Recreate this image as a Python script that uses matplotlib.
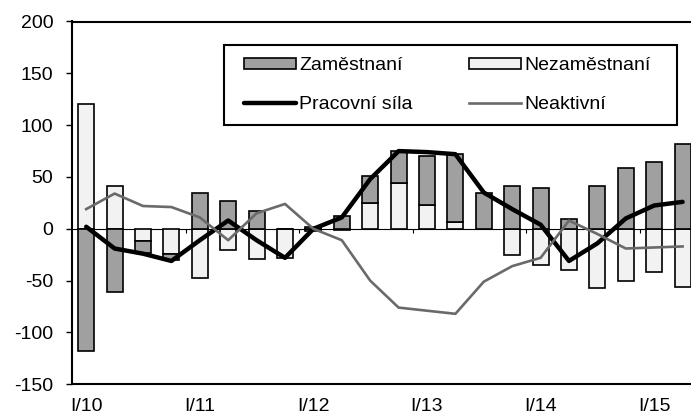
import matplotlib
matplotlib.use("Agg")
import matplotlib.pyplot as plt
from matplotlib.patches import Rectangle
import numpy as np

plt.rcParams['font.family'] = ['Liberation Sans', 'DejaVu Sans']
plt.rcParams['axes.unicode_minus'] = False

categories = ["I/10", "II/10", "III/10", "IV/10", "I/11", "II/11", "III/11", "IV/11",
              "I/12", "II/12", "III/12", "IV/12", "I/13", "II/13", "III/13", "IV/13",
              "I/14", "II/14", "III/14", "IV/14", "I/15", "II/15"]
zamestnani = [-118, -61, -11, -6, 35, 27, 17, 0, 2, 12, 25.5, 31.5, 48, 65, 35, 41,
              39, 9, 41, 59, 64, 82]
nezamestnani = [120, 41, -12, -24, -47, -20, -29, -28, -2, -1, 25, 44, 22.5, 7, 0, -25,
                -35, -40, -57, -50, -42, -56]
pracovni_sila = [2, -19, -24, -31, -11, 8, -11, -28, 0, 11, 48, 75, 74, 72, 35, 19,
                 4, -31, -14, 10, 22.5, 26]
neaktivni = [19, 34, 22, 21, 11, -11, 15, 24, 0, -11, -50, -76, -79, -82, -51, -36,
             -28, 8, -5, -19, -18, -17]

x = np.arange(len(categories))
zam = np.array(zamestnani, dtype=float)
nez = np.array(nezamestnani, dtype=float)
# Nezaměstnaní drawn from zero; Zaměstnaní stacked on it when of the same sign
zam_bottom = np.where(np.sign(zam) == np.sign(nez), nez, 0.0)

fig = plt.figure(figsize=(6.91, 4.17), dpi=100)
ax = fig.add_axes([72/691, 1-384.3/417, 624.8/691, 362.8/417])

dark = '#A0A0A0'
light = '#F2F2F2'
bw = 0.56
b_nez = ax.bar(x, nez, width=bw, color=light, edgecolor='black', linewidth=1.2,
               label='Nezaměstnaní', zorder=2)
b_zam = ax.bar(x, zam, width=bw, bottom=zam_bottom, color=dark, edgecolor='black',
               linewidth=1.2, label='Zaměstnaní', zorder=2)
l_pr, = ax.plot(x, pracovni_sila, color='black', linewidth=3.2, label='Pracovní síla',
                zorder=4, solid_capstyle='round', solid_joinstyle='round')
l_ne, = ax.plot(x, neaktivni, color='#6A6A6A', linewidth=1.9, label='Neaktivní', zorder=5)

ax.set_xlim(-0.5, len(categories) - 0.5)
ax.set_ylim(-150, 200)
ax.set_yticks(np.arange(-150, 201, 50))
ax.tick_params(axis='y', direction='out', length=4.5, width=1, labelsize=14, pad=9)

idx = [i for i, c in enumerate(categories) if c.startswith("I/")]
ax.set_xticks(idx)
ax.set_xticklabels([categories[i] for i in idx])
ax.tick_params(axis='x', length=0, labelsize=14, pad=10)

# zero axis with tick marks between years
sec = ax.secondary_xaxis(150/350)
sec.set_xticks([i - 0.5 for i in idx if i > 0])
sec.set_xticklabels([])
sec.tick_params(axis='x', direction='out', length=3, width=0.8)
sec.spines['bottom'].set_linewidth(0.8)

for s in ['left', 'bottom', 'top']:
    ax.spines[s].set_linewidth(1.5)
ax.spines['right'].set_visible(False)

# legend filled by columns: column 1 = Zaměstnaní, Pracovní síla
leg = fig.legend([b_zam, l_pr, b_nez, l_ne],
                 ['Zaměstnaní', 'Pracovní síla', 'Nezaměstnaní', 'Neaktivní'],
                 ncol=2, loc='upper left', bbox_to_anchor=(244/691, 1-57.5/417),
                 fontsize=14, frameon=False, handlelength=2.65,
                 handleheight=0.45, handletextpad=0.2, columnspacing=2.9,
                 labelspacing=1.1, borderpad=0, borderaxespad=0)
fig.add_artist(Rectangle((224/691, 1-125/417), 453/691, 80/417,
                         transform=fig.transFigure, fill=False,
                         edgecolor='black', linewidth=1.5))

fig.savefig('out.png', dpi=100)
